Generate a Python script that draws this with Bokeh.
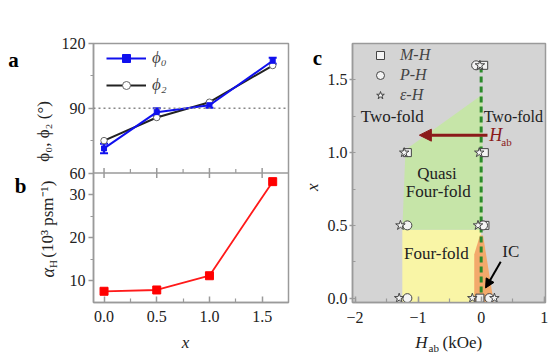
import numpy as np
from bokeh.plotting import figure
from bokeh.models import (Range1d, SingleIntervalTicker, FixedTicker, LinearAxis, Label, Legend,
                          LegendItem, Span, Whisker, ColumnDataSource, Arrow, NormalHead,
                          TeeHead, PrintfTickFormatter)
from bokeh.layouts import row, column
from bokeh.embed import file_html
from bokeh.resources import INLINE

# ---------------- data ----------------
# panel a
x_a = [0.0, 0.5, 1.0, 1.6]
phi0 = [71.4, 88.2, 91.4, 112.0]
phi0_err = [2.2, 1.8, 1.2, 1.4]
phi2 = [75.0, 85.7, 92.8, 109.8]
ref_angle = 90
a_ticks = [60, 90, 120]
a_minor = [75, 105]
# panel b
x_b = [0.0, 0.5, 1.0, 1.6]
alpha_h = [7.6, 7.9, 11.2, 33.0]
b_ticks = [10, 20, 30]
b_minor = [15, 25]
# shared x ticks (drawn on the a/b divider too)
x_major = [0.0, 0.5, 1.0, 1.5]
x_minor = [0.25, 0.75, 1.25]
# panel c (H in kOe, x composition)
mh_h = [-1.17, 0.05, 0.06, -0.02, 0.04]
mh_x = [1.0, 1.0, 0.5, 0.0, 1.6]
ph_h = [-1.17, 0.13, -1.17, 0.03, -0.08]
ph_x = [0.0, 0.0, 0.5, 0.5, 1.6]
eh_h = [-1.30, -0.14, 0.21, -1.28, -0.05, -1.22, -0.03, -0.02]
eh_x = [0.0, 0.0, 0.0, 0.5, 0.5, 1.0, 1.0, 1.6]
green_h = [-1.25, -1.20, 0.02, 0.02]
green_x = [0.47, 1.02, 1.40, 0.47]
yellow_h = [-1.25, -1.25, 0.0, 0.0]
yellow_x = [-0.03, 0.47, 0.47, -0.03]
ic_h = [-0.11, -0.11, -0.02, 0.03, 0.20]
ic_x = [-0.03, 0.30, 0.43, 0.43, -0.03]
boundary_h = [0.0, 0.0]
boundary_x = [-0.03, 1.6]
field_arrow_h = [0.10, -0.98]
field_arrow_x = [1.12, 1.12]
ic_arrow_h = [0.31, 0.07]
ic_arrow_x = [0.25, 0.07]

FONT = "Liberation Serif"
AX = "#9a9a9a"


def style_axis(ax, size="16px"):
    ax.axis_line_color = AX
    ax.axis_line_width = 1.5
    ax.major_tick_line_color = AX
    ax.major_tick_line_width = 1.5
    ax.minor_tick_line_color = AX
    ax.minor_tick_line_width = 1.2
    ax.major_label_text_font = FONT
    ax.major_label_text_font_size = size
    ax.major_label_text_color = "#222222"


def lab(p, xy, text, size="17px", style="normal", color="#222222", align="center",
        baseline="middle", angle=0.0):
    p.add_layout(Label(x=xy[0], y=xy[1], text=text, text_font=FONT, text_font_size=size,
                       text_font_style=style, text_color=color, text_align=align,
                       text_baseline=baseline, angle=angle))


def strip(w, h, x0, y0):
    """Blank text canvas whose data coordinates equal screen pixels."""
    s = figure(width=w, height=h, x_range=Range1d(x0, x0 + w), y_range=Range1d(y0 + h, y0),
               output_backend="svg", toolbar_location=None, x_axis_type=None,
               y_axis_type=None, min_border=0, min_border_left=0, min_border_right=0,
               min_border_top=0, min_border_bottom=0)
    s.outline_line_color = None
    return s

# ---------------- panels a + b (one frame, two stacked y scales) ----------------
ra = Range1d(0, 120)     # panel a uses the upper half (60..120)
rb = Range1d(5, 65)      # panel b uses the lower half (5..35)
pab = figure(width=242, height=330, x_range=Range1d(-0.1, 1.75), y_range=ra,
             output_backend="svg", toolbar_location=None, x_axis_type=None, y_axis_type=None,
             min_border_left=35, min_border_right=12, min_border_top=43, min_border_bottom=27)
pab.extra_y_ranges = {"b": rb}
pab.outline_line_color = AX
pab.outline_line_width = 1.5


def b_to_a(v):
    return ra.start + (v - rb.start) * (ra.end - ra.start) / (rb.end - rb.start)


yab = LinearAxis(ticker=FixedTicker(ticks=[b_to_a(v) for v in b_ticks] + a_ticks,
                                    minor_ticks=[b_to_a(v) for v in b_minor] + a_minor),
                 major_label_overrides={int(round(b_to_a(v))): str(v) for v in b_ticks},
                 major_tick_in=0, major_tick_out=5, minor_tick_in=0, minor_tick_out=3)
style_axis(yab)
yab.major_label_standoff = 3
pab.add_layout(yab, "left")

xab = LinearAxis(ticker=FixedTicker(ticks=x_major, minor_ticks=x_minor),
                 major_tick_in=6, major_tick_out=0, minor_tick_in=4, minor_tick_out=0,
                 formatter=PrintfTickFormatter(format="%.1f"))
style_axis(xab)
xab.major_label_standoff = 8
pab.add_layout(xab, "below")

# divider between a and b, with its tick marks
div = a_ticks[0]
pab.add_layout(Span(location=div, dimension="width", line_color=AX, line_width=1.5))
pab.segment(x0=x_major, x1=x_major, y0=[div - 2.3] * len(x_major),
            y1=[div + 2.3] * len(x_major), line_color=AX, line_width=1.5)
pab.segment(x0=x_minor, x1=x_minor, y0=[div] * len(x_minor),
            y1=[div + 1.8] * len(x_minor), line_color=AX, line_width=1.2)

# panel a
pab.add_layout(Span(location=ref_angle, dimension="width", line_color="#888888",
                    line_dash="2 3", line_width=1.5))
l2 = pab.line(x_a, phi2, line_color="#222222", line_width=2)
s2 = pab.scatter(x_a, phi2, marker="circle", size=6.5, fill_color="white",
                 line_color="#666666", line_width=1)
src_a = ColumnDataSource(dict(x=x_a, lo=[v - e for v, e in zip(phi0, phi0_err)],
                              hi=[v + e for v, e in zip(phi0, phi0_err)]))
pab.add_layout(Whisker(base="x", lower="lo", upper="hi", source=src_a, line_color="#1010ee",
                       line_width=2,
                       lower_head=TeeHead(size=8, line_color="#1010ee", line_width=2),
                       upper_head=TeeHead(size=8, line_color="#1010ee", line_width=2)))
l0 = pab.line(x_a, phi0, line_color="#1010ee", line_width=2)
s0 = pab.scatter(x_a, phi0, marker="square", size=5, fill_color="#1010ee",
                 line_color="#1010ee")

leg_a = Legend(items=[LegendItem(label="ϕ₀", renderers=[l0, s0]),
                      LegendItem(label="ϕ₂", renderers=[l2, s2])],
               location=(13, 207), background_fill_alpha=0, border_line_alpha=0,
               label_text_font=FONT, label_text_font_size="17px",
               label_text_font_style="italic", glyph_width=40, glyph_height=20,
               label_height=20, spacing=7, padding=0, margin=0, label_standoff=6)
pab.add_layout(leg_a)

# panel b
pab.line(x_b, alpha_h, line_color="#ff1a1a", line_width=1.8, y_range_name="b")
pab.scatter(x_b, alpha_h, marker="square", size=8, fill_color="#ff0000",
            line_color="#ff0000", y_range_name="b")

# text strip on the left
sl = strip(58, 330, 0, 0)
lab(sl, (13, 21), "a", size="21px", style="bold", color="black")
lab(sl, (20, 181), "b", size="21px", style="bold", color="black")
lab(sl, (43, 112), "ϕ₀, ϕ₂ (°)", size="17px", angle=np.pi / 2)
lab(sl, (47, 298), "α", size="18px", style="italic", align="left", angle=np.pi / 2)
lab(sl, (52, 286), "H", size="11px", align="left", angle=np.pi / 2)
lab(sl, (47, 273), "(10³ psm⁻¹)", size="17px", align="left", angle=np.pi / 2)

# ---------------- panel c ----------------
pc = figure(width=224, height=330, x_range=Range1d(-2.04, 1.02), y_range=Range1d(-0.03, 1.75),
            output_backend="svg", toolbar_location=None, x_axis_type=None, y_axis_type=None,
            min_border_left=26, min_border_right=3, min_border_top=43, min_border_bottom=28,
            background_fill_color="#d4d4d4")
pc.outline_line_color = AX
pc.outline_line_width = 1.5
yc = LinearAxis(ticker=SingleIntervalTicker(interval=0.5, num_minor_ticks=2),
                major_tick_in=0, major_tick_out=3, minor_tick_in=3, minor_tick_out=0,
                formatter=PrintfTickFormatter(format="%.1f"))
style_axis(yc)
yc.major_label_standoff = 2
pc.add_layout(yc, "left")
xc = LinearAxis(ticker=SingleIntervalTicker(interval=1, num_minor_ticks=2),
                major_tick_in=6, major_tick_out=0, minor_tick_in=4, minor_tick_out=0)
style_axis(xc)
xc.major_label_standoff = 9
pc.add_layout(xc, "below")

pc.patch(yellow_h, yellow_x, fill_color="#f9f5a6", line_color=None)
pc.patch(green_h, green_x, fill_color="#c6e5a8", line_color=None)
pc.patch(ic_h, ic_x, fill_color="#f3a96b", line_color=None)
pc.line(boundary_h, boundary_x, line_color="#2b8a2b", line_width=3, line_dash="6 4")

pc.add_layout(Arrow(end=NormalHead(size=12, fill_color="#8b1a1a", line_color="#8b1a1a"),
                    x_start=field_arrow_h[0], y_start=field_arrow_x[0],
                    x_end=field_arrow_h[1], y_end=field_arrow_x[1],
                    line_color="#8b1a1a", line_width=3))
pc.add_layout(Arrow(end=NormalHead(size=9, fill_color="black", line_color="black"),
                    x_start=ic_arrow_h[0], y_start=ic_arrow_x[0],
                    x_end=ic_arrow_h[1], y_end=ic_arrow_x[1],
                    line_color="black", line_width=2))

mk = dict(fill_color="#f4f4f4", line_color="#444444", line_width=1)
r_m = pc.scatter(mh_h, mh_x, marker="square", size=8, **mk)
r_p = pc.scatter(ph_h, ph_x, marker="circle", size=9, **mk)
r_e = pc.scatter(eh_h, eh_x, marker="star", size=10, **mk)

leg_c = Legend(items=[LegendItem(label="M-H", renderers=[r_m]),
                      LegendItem(label="P-H", renderers=[r_p]),
                      LegendItem(label="ε-H", renderers=[r_e])],
               location=(18, 197), background_fill_alpha=0, border_line_alpha=0,
               label_text_font=FONT, label_text_font_size="16px",
               label_text_font_style="italic", glyph_width=20, glyph_height=20,
               label_height=20, spacing=0, padding=0, margin=0, label_standoff=10)
pc.add_layout(leg_c)

lab(pc, (-1.41, 1.25), "Two-fold")
lab(pc, (0.04, 1.25), "Two-fold", size="16px", align="left")
lab(pc, (-0.70, 0.86), "Quasi")
lab(pc, (-0.68, 0.73), "Four-fold")
lab(pc, (-0.71, 0.31), "Four-fold")
lab(pc, (0.47, 0.32), "IC")
lab(pc, (0.23, 1.12), "H", size="18px", style="italic", color="#8b1a1a")
lab(pc, (0.32, 1.075), "ab", size="11px", color="#8b1a1a", align="left")

sc = strip(24, 330, 300, 0)
lab(sc, (317, 19), "c", size="21px", style="bold", color="black")
lab(sc, (312, 183), "x", size="17px", style="italic", angle=np.pi / 2)

# bottom text strip for the x-axis titles
sbot = strip(548, 24, 0, 330)
lab(sbot, (185, 342), "x", size="17px", style="italic")
lab(sbot, (421, 342), "H", size="17px", style="italic")
lab(sbot, (428, 347), "ab", size="11px", align="left")
lab(sbot, (442, 342), "(kOe)", size="17px", align="left")

layout = column(row(sl, pab, sc, pc), sbot)
open("out.html", "w").write(file_html(layout, INLINE))
